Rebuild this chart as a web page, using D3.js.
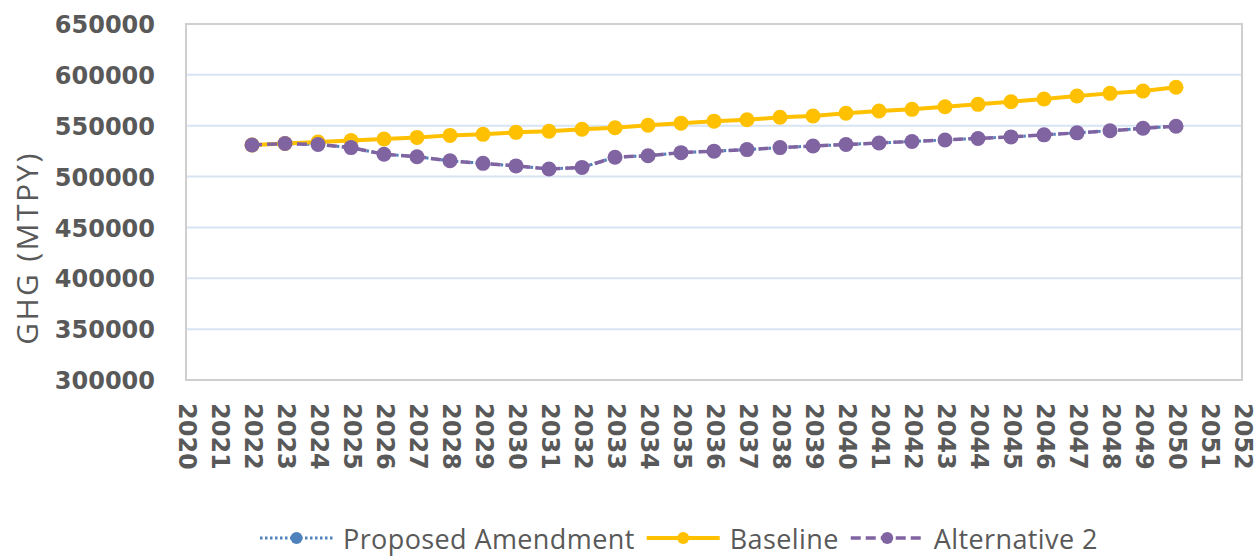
<!DOCTYPE html>
<html><head><meta charset="utf-8">
<script src="https://cdn.jsdelivr.net/npm/d3@7"></script>
<style>html,body{margin:0;padding:0;background:#fff;}</style>
</head><body>
<svg id="c" width="1260" height="557"></svg>
<script>
const years = d3.range(2022, 2051);
const proposedAmendment = [531000,532500,531500,528500,522000,519500,515500,513000,510500,507500,509000,519000,520500,523500,525000,526500,528500,530000,531500,533000,534500,536000,537500,539000,541000,543000,545000,547500,549500];
const baseline = [531000,532500,534000,535500,537000,538500,540500,541500,543500,544500,546500,548000,550500,552500,554500,555800,558300,559600,562200,564500,566100,568700,571000,573600,576300,579200,581800,584100,587800];
const alternative2 = [531000,532500,531500,528500,522000,519500,515500,513000,510500,507500,509000,519000,520500,523500,525000,526500,528500,530000,531500,533000,534500,536000,537500,539000,541000,543000,545000,547500,549500];
const yTicks = [300000,350000,400000,450000,500000,550000,600000,650000];
const xTicks = d3.range(2020, 2053);
const seriesNames = ["Proposed Amendment","Baseline","Alternative 2"];

const svg = d3.select("#c");
const L=186, R=1242, T=24, B=380;
const x = d3.scaleLinear().domain([2020,2052]).range([L,R]);
const y = d3.scaleLinear().domain([300000,650000]).range([B,T]);
const txt = "#595959";

// gridlines
svg.append("g").selectAll("line").data(yTicks.filter(v=>v>300000&&v<650000)).join("line")
  .attr("x1",L).attr("x2",R).attr("y1",d=>y(d)).attr("y2",d=>y(d))
  .attr("stroke","#d6e4f3").attr("stroke-width",2);
// plot border
svg.append("rect").attr("x",L).attr("y",T).attr("width",R-L).attr("height",B-T)
  .attr("fill","none").attr("stroke","#cfcfcf").attr("stroke-width",2);

// y axis
const yAxis = d3.axisLeft(y).tickValues(yTicks).tickSize(0).tickPadding(0).tickFormat(d3.format("d"));
const gy = svg.append("g").attr("transform",`translate(155,0)`).call(yAxis);
gy.select(".domain").remove();
gy.selectAll("text").attr("fill",txt).attr("font-family","DejaVu Sans").attr("font-weight","bold").attr("font-size",24).attr("dy","0.36em");

// x axis
const xAxis = d3.axisBottom(x).tickValues(xTicks).tickSize(0).tickPadding(0).tickFormat(d3.format("d"));
const gx = svg.append("g").attr("transform",`translate(0,403)`).call(xAxis);
gx.select(".domain").remove();
gx.selectAll("text").attr("fill",txt).attr("font-family","DejaVu Sans").attr("font-weight","bold").attr("font-size",24)
  .attr("text-anchor","start").attr("dy",null).attr("y",0)
  .attr("transform","rotate(90)").attr("dominant-baseline","central");

// y title
svg.append("text").attr("transform","translate(26,248) rotate(-90)")
  .attr("text-anchor","middle").attr("dominant-baseline","central")
  .attr("font-family","Open Sans").attr("font-size",30).attr("letter-spacing",2.4)
  .attr("fill",txt).text("GHG (MTPY)");

const line = d3.line().x((d,i)=>x(years[i])).y(d=>y(d));
const styles = [
  {data:proposedAmendment,color:"#4F81BD",w:3,dash:"2.5,2.5",r:6.5},
  {data:baseline,color:"#FFC000",w:4,dash:null,r:7.5},
  {data:alternative2,color:"#8064A2",w:3.5,dash:"10,5",r:7.5}
];
styles.forEach(s=>{
  const g = svg.append("g");
  g.append("path").datum(s.data).attr("d",line).attr("fill","none")
    .attr("stroke",s.color).attr("stroke-width",s.w).attr("stroke-dasharray",s.dash);
  g.selectAll("circle").data(s.data).join("circle")
    .attr("cx",(d,i)=>x(years[i])).attr("cy",d=>y(d)).attr("r",s.r).attr("fill",s.color);
});

// legend
const leg = svg.append("g");
let lx = 260; const ly = 538;
styles.forEach((s,i)=>{
  leg.append("line").attr("x1",lx).attr("x2",lx+73).attr("y1",ly).attr("y2",ly)
    .attr("stroke",s.color).attr("stroke-width",s.w).attr("stroke-dasharray",s.dash);
  leg.append("circle").attr("cx",lx+36.5).attr("cy",ly).attr("r",6).attr("fill",s.color);
  const t = leg.append("text").attr("x",lx+83).attr("y",ly).attr("dominant-baseline","central")
    .attr("font-family","Open Sans").attr("font-size",27).attr("letter-spacing",0.4).attr("fill",txt).text(seriesNames[i]);
  lx = lx + 83 + t.node().getComputedTextLength() + 12;
});
</script>
</body></html>
